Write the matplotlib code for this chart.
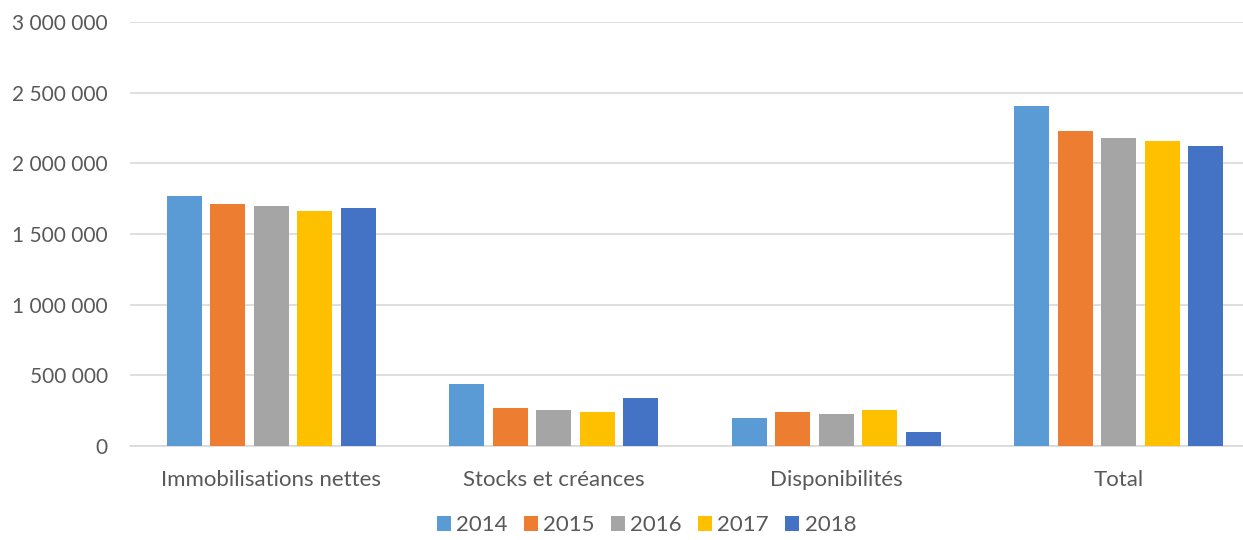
import numpy as np
import matplotlib.pyplot as plt
from matplotlib.ticker import FuncFormatter

categories = ["Immobilisations nettes", "Stocks et créances", "Disponibilités", "Total"]
years = ["2014", "2015", "2016", "2017", "2018"]
v2014 = [1771000, 436000, 196000, 2403000]
v2015 = [1712000, 271000, 243000, 2229000]
v2016 = [1698000, 255000, 224000, 2177000]
v2017 = [1663000, 240000, 257000, 2160000]
v2018 = [1686000, 337000, 97000, 2120000]
series = [v2014, v2015, v2016, v2017, v2018]
colors = ["#5B9BD5", "#ED7D31", "#A5A5A5", "#FFC000", "#4472C4"]

plt.rcParams['font.family'] = ['Lato', 'DejaVu Sans']
txt = "#595959"

fig = plt.figure(figsize=(12.43, 5.4), dpi=100)
ax = fig.add_axes([130 / 1243, 94 / 540, 1130 / 1243, 424 / 540])

x = np.arange(len(categories))
step = 0.154
width = 0.124
for j, (vals, c) in enumerate(zip(series, colors)):
    ax.bar(x + (j - 2) * step, vals, width, color=c, label=years[j], zorder=3)

ax.set_xlim(-0.5, 3.5)
ax.set_ylim(0, 3000000)
ax.set_yticks(np.arange(0, 3000001, 500000))
ax.yaxis.set_major_formatter(FuncFormatter(lambda v, p: f"{int(v):,}".replace(",", " ")))
ax.grid(axis='y', color="#D9D9D9", linewidth=1.2, zorder=0)
for s in ["top", "right", "left"]:
    ax.spines[s].set_visible(False)
ax.spines["bottom"].set_color("#D9D9D9")
ax.spines["bottom"].set_linewidth(1.2)
ax.set_xticks(x)
ax.set_xticklabels(categories)
ax.tick_params(axis='both', length=0, labelsize=15, colors=txt)
ax.tick_params(axis='x', labelsize=16, pad=17)
ax.tick_params(axis='y', pad=16)

fig.legend(loc='lower center', bbox_to_anchor=(0.52, -0.028), ncol=5, frameon=False,
           fontsize=16, labelcolor=txt, handlelength=0.63, handleheight=0.63,
           handletextpad=0.25, columnspacing=0.72)

fig.savefig("out.png", dpi=100)
